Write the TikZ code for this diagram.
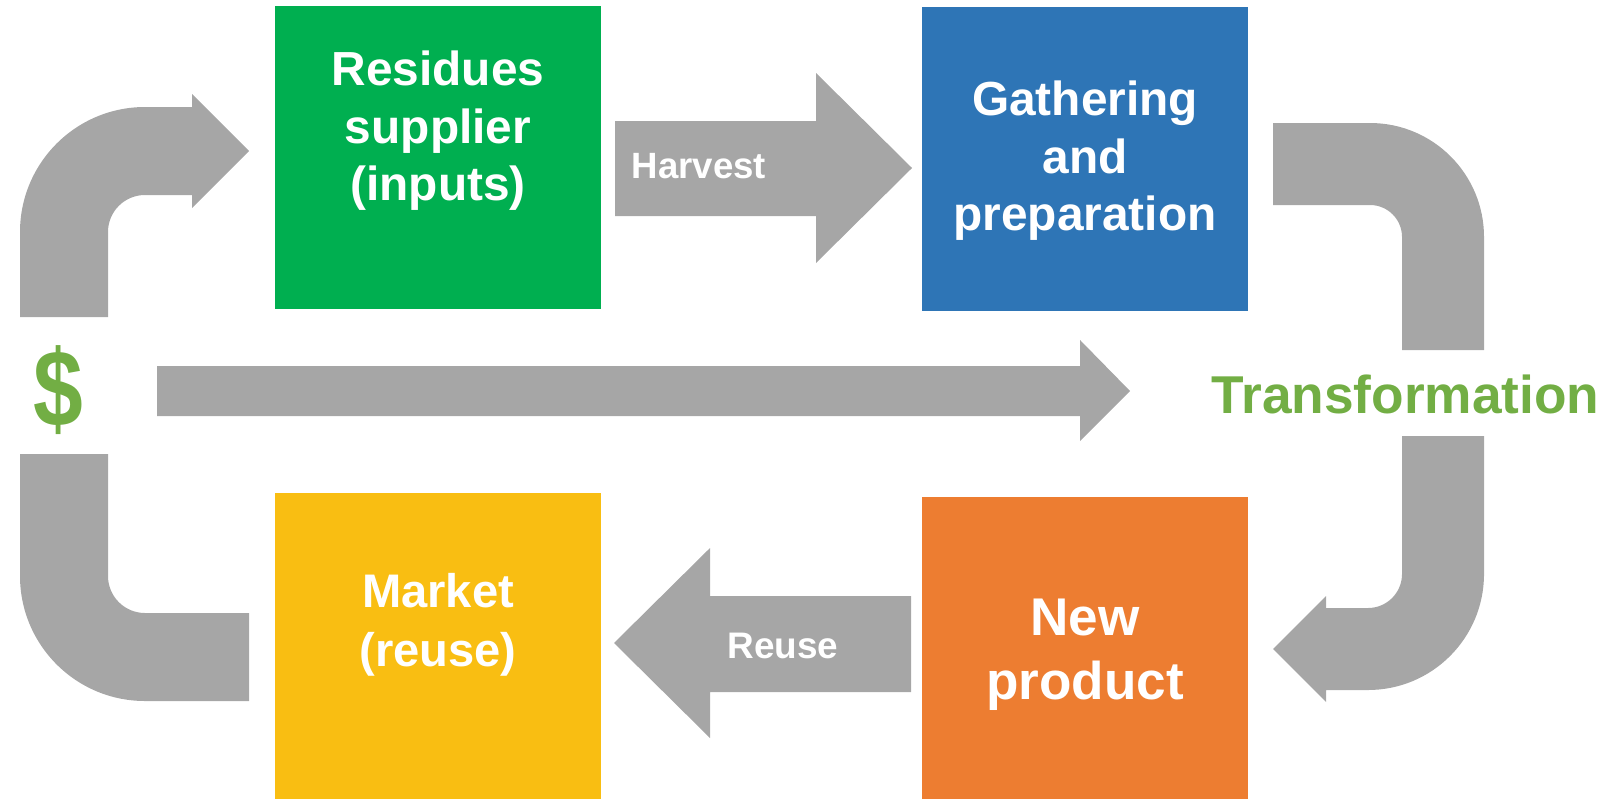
\documentclass[tikz,border=0pt]{standalone}
\usepackage{fontspec}
\setmainfont{Liberation Sans}
\usepackage{tikz}
\definecolor{boxgreen}{HTML}{00AF50}
\definecolor{boxblue}{HTML}{2E75B6}
\definecolor{boxyellow}{HTML}{F9BE12}
\definecolor{boxorange}{HTML}{ED7D31}
\definecolor{flowgray}{HTML}{A6A6A6}
\definecolor{moneygreen}{HTML}{72AE44}
\tikzset{
  stage/.style={fill=#1, draw=none, minimum width=3.26cm, inner sep=0pt},
  stagetext/.style={text=white, align=center, inner sep=0pt, anchor=north,
    font=\bfseries\fontsize{13.6}{16.4}\selectfont},
  flow/.style={fill=flowgray, draw=none},
  flowtext/.style={text=white, inner sep=0pt, anchor=base west, font=\bfseries}
}

\begin{document}
\begin{tikzpicture}[x=0.01cm, y=0.01cm]
    \useasboundingbox (0, 0) rectangle (1613, 799);
    % the four stages
    \node[stage=boxgreen, minimum height=3.03cm] (supplier) at (438, 641.5) {};
    \node[stage=boxblue, minimum height=3.04cm] (gathering) at (1085, 640) {};
    \node[stage=boxyellow, minimum height=3.06cm] (market) at (438, 153) {};
    \node[stage=boxorange, minimum height=3.02cm] (newproduct) at (1085, 151) {};
    \node[stagetext] (suppliertext) at (438, 749) {Residues\\supplier\\(inputs)};
    \node[stagetext] (gatheringtext) at (1085, 719) {Gathering\\and\\preparation};
    \node[stagetext, font=\bfseries\fontsize{13.4}{16.8}\selectfont] (markettext) at (438, 226) {Market\\(reuse)};
    \node[stagetext, font=\bfseries\fontsize{15.1}{18.2}\selectfont] (newproducttext) at (1085, 201) {New\\product};
    % straight arrows
    \fill[flow] (615, 678)--(816, 678)--(816, 726)--(912, 631)--(816, 536)--(816, 583)--(615, 583)--cycle;
    \node[flowtext, font=\bfseries\fontsize{10.4}{12}\selectfont] (harvest) at (631, 621) {Harvest};
    \fill[flow] (911, 203)--(710, 203)--(710, 251)--(614, 156)--(710, 61)--(710, 107)--(911, 107)--cycle;
    \node[flowtext, font=\bfseries\fontsize{10.5}{12}\selectfont] (reuse) at (727, 141) {Reuse};
    \fill[flow] (157, 433)--(1080, 433)--(1080, 459)--(1130, 408)--(1080, 358)--(1080, 383)--(157, 383)--cycle;
    % bent arrows
    \fill[flow] (20, 482)--(20, 567) arc[start angle=180, end angle=90, radius=125]--(192, 692)--(192, 705)--(249, 648)--(192, 591)--(192, 604)--(145, 604) arc[start angle=90, end angle=180, radius=37]--(108, 482)--cycle;
    \fill[flow] (20, 345)--(20, 223) arc[start angle=180, end angle=270, radius=125]--(249, 98)--(249, 186)--(145, 186) arc[start angle=270, end angle=180, radius=37]--(108, 345)--cycle;
    \fill[flow] (1273, 676)--(1370, 676) arc[start angle=90, end angle=0, radius=114]--(1484, 449)--(1402, 449)--(1402, 562) arc[start angle=0, end angle=90, radius=32]--(1273, 594)--cycle;
    \fill[flow] (1402, 363)--(1484, 363)--(1484, 225) arc[start angle=0, end angle=-90, radius=116]--(1326, 109)--(1326, 97)--(1273, 150)--(1326, 203)--(1326, 191)--(1368, 191) arc[start angle=-90, end angle=0, radius=34]--(1402, 363)--cycle;
    % labels
    \node[text=moneygreen, inner sep=0pt, xscale=0.82, transform shape, font=\bfseries\fontsize{31}{33}\selectfont] (money) at (58, 409) {\$};
    \node[text=moneygreen, inner sep=0pt, anchor=base west, font=\bfseries\fontsize{15.15}{18}\selectfont] (transformation) at (1211, 386) {Transformation};
\end{tikzpicture}
\end{document}
